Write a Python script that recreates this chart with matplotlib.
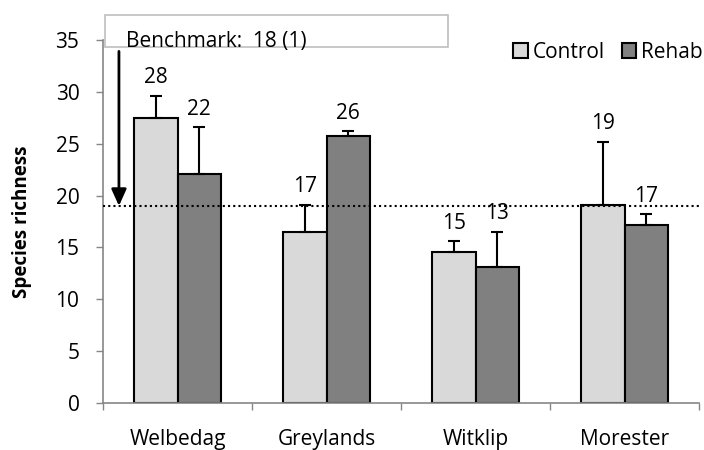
import numpy as np
import matplotlib
matplotlib.use("Agg")
import matplotlib.pyplot as plt
from matplotlib.patches import Rectangle, Patch
from matplotlib.transforms import blended_transform_factory

plt.rcParams['font.family'] = ['Open Sans', 'DejaVu Sans']

sites = ["Welbedag", "Greylands", "Witklip", "Morester"]
control = [27.5, 16.5, 14.6, 19.1]
rehab = [22.1, 25.7, 13.1, 17.2]
control_top = [29.6, 19.1, 15.6, 25.2]   # upper end of error bar
rehab_top = [26.6, 26.2, 16.5, 18.2]
benchmark = 19.0
benchmark_text = "Benchmark:  18 (1)"

FS = 15

def half_up(v):
    return int(np.floor(v + 0.5))

fig = plt.figure(figsize=(7.04, 4.5), dpi=100)
ax = fig.add_axes([103/704, 47/450, 596/704, 363/450])

x = np.arange(len(sites))
w = 0.29
grey_light = "#D9D9D9"
grey_dark = "#808080"
axis_grey = "#868686"

for off, vals, tops, col in [(-w/2, control, control_top, grey_light),
                             (w/2, rehab, rehab_top, grey_dark)]:
    vals = np.array(vals)
    tops = np.array(tops)
    ax.bar(x + off, vals, width=w, color=col, edgecolor="black", linewidth=1.5, zorder=2)
    ax.errorbar(x + off, vals, yerr=[np.zeros_like(vals), tops - vals], fmt="none",
                ecolor="black", elinewidth=1.5, capsize=4, capthick=1.5, zorder=3)
    for xi, v, t in zip(x + off, vals, tops):
        ax.annotate(str(half_up(v)), (xi, t), xytext=(0, 13), textcoords="offset points",
                    ha="center", va="center", fontsize=FS)

# benchmark line
ax.axhline(benchmark, color="black", linestyle=(0, (1, 1.5)), linewidth=1.5, zorder=4)

ax.set_xlim(-0.5, len(sites) - 0.5)
ax.set_ylim(0, 35)
ax.set_yticks(np.arange(0, 36, 5))
ax.set_xticks(np.arange(-0.5, len(sites), 1.0))
ax.set_xticklabels([])
ax.tick_params(axis="x", direction="out", length=5, color=axis_grey, width=1)
ax.tick_params(axis="y", direction="out", length=5, color=axis_grey, width=1, labelsize=FS, pad=12)
for s in ["top", "right"]:
    ax.spines[s].set_visible(False)
for s in ["left", "bottom"]:
    ax.spines[s].set_color(axis_grey)
    ax.spines[s].set_linewidth(1.2)

# site names sit well below the axis
tr = blended_transform_factory(ax.transData, fig.transFigure)
for xi, name in zip(x, sites):
    ax.text(xi, 1 - 445/450, name, transform=tr, ha="center", va="baseline", fontsize=FS)

ax.set_ylabel("Species richness", fontsize=13.5, fontweight="bold", labelpad=17)

# benchmark box and arrow
fig.add_artist(Rectangle((105/704, 1 - 47/450), 343/704, 32/450, transform=fig.transFigure,
                         facecolor="white", edgecolor="#BFBFBF", linewidth=1.2, zorder=1))
fig.text(126/704, 1 - 47/450, benchmark_text, fontsize=FS, va="baseline", ha="left")
ax.annotate("", xy=(-0.393, benchmark), xytext=(-0.393, 33.9),
            arrowprops=dict(arrowstyle="-|>,head_length=1.0,head_width=0.45",
                            color="black", lw=2, shrinkA=0, shrinkB=0), zorder=5)

handles = [Patch(facecolor=grey_light, edgecolor="black", linewidth=1.5, label="Control"),
           Patch(facecolor=grey_dark, edgecolor="black", linewidth=1.5, label="Rehab")]
fig.legend(handles=handles, loc="center right", bbox_to_anchor=(703/704, 1 - 52/450), ncol=2,
           frameon=False, fontsize=FS, handlelength=0.7, handleheight=0.7,
           handletextpad=0.25, columnspacing=0.8, borderaxespad=0, borderpad=0)

fig.savefig("out.png", dpi=100)
